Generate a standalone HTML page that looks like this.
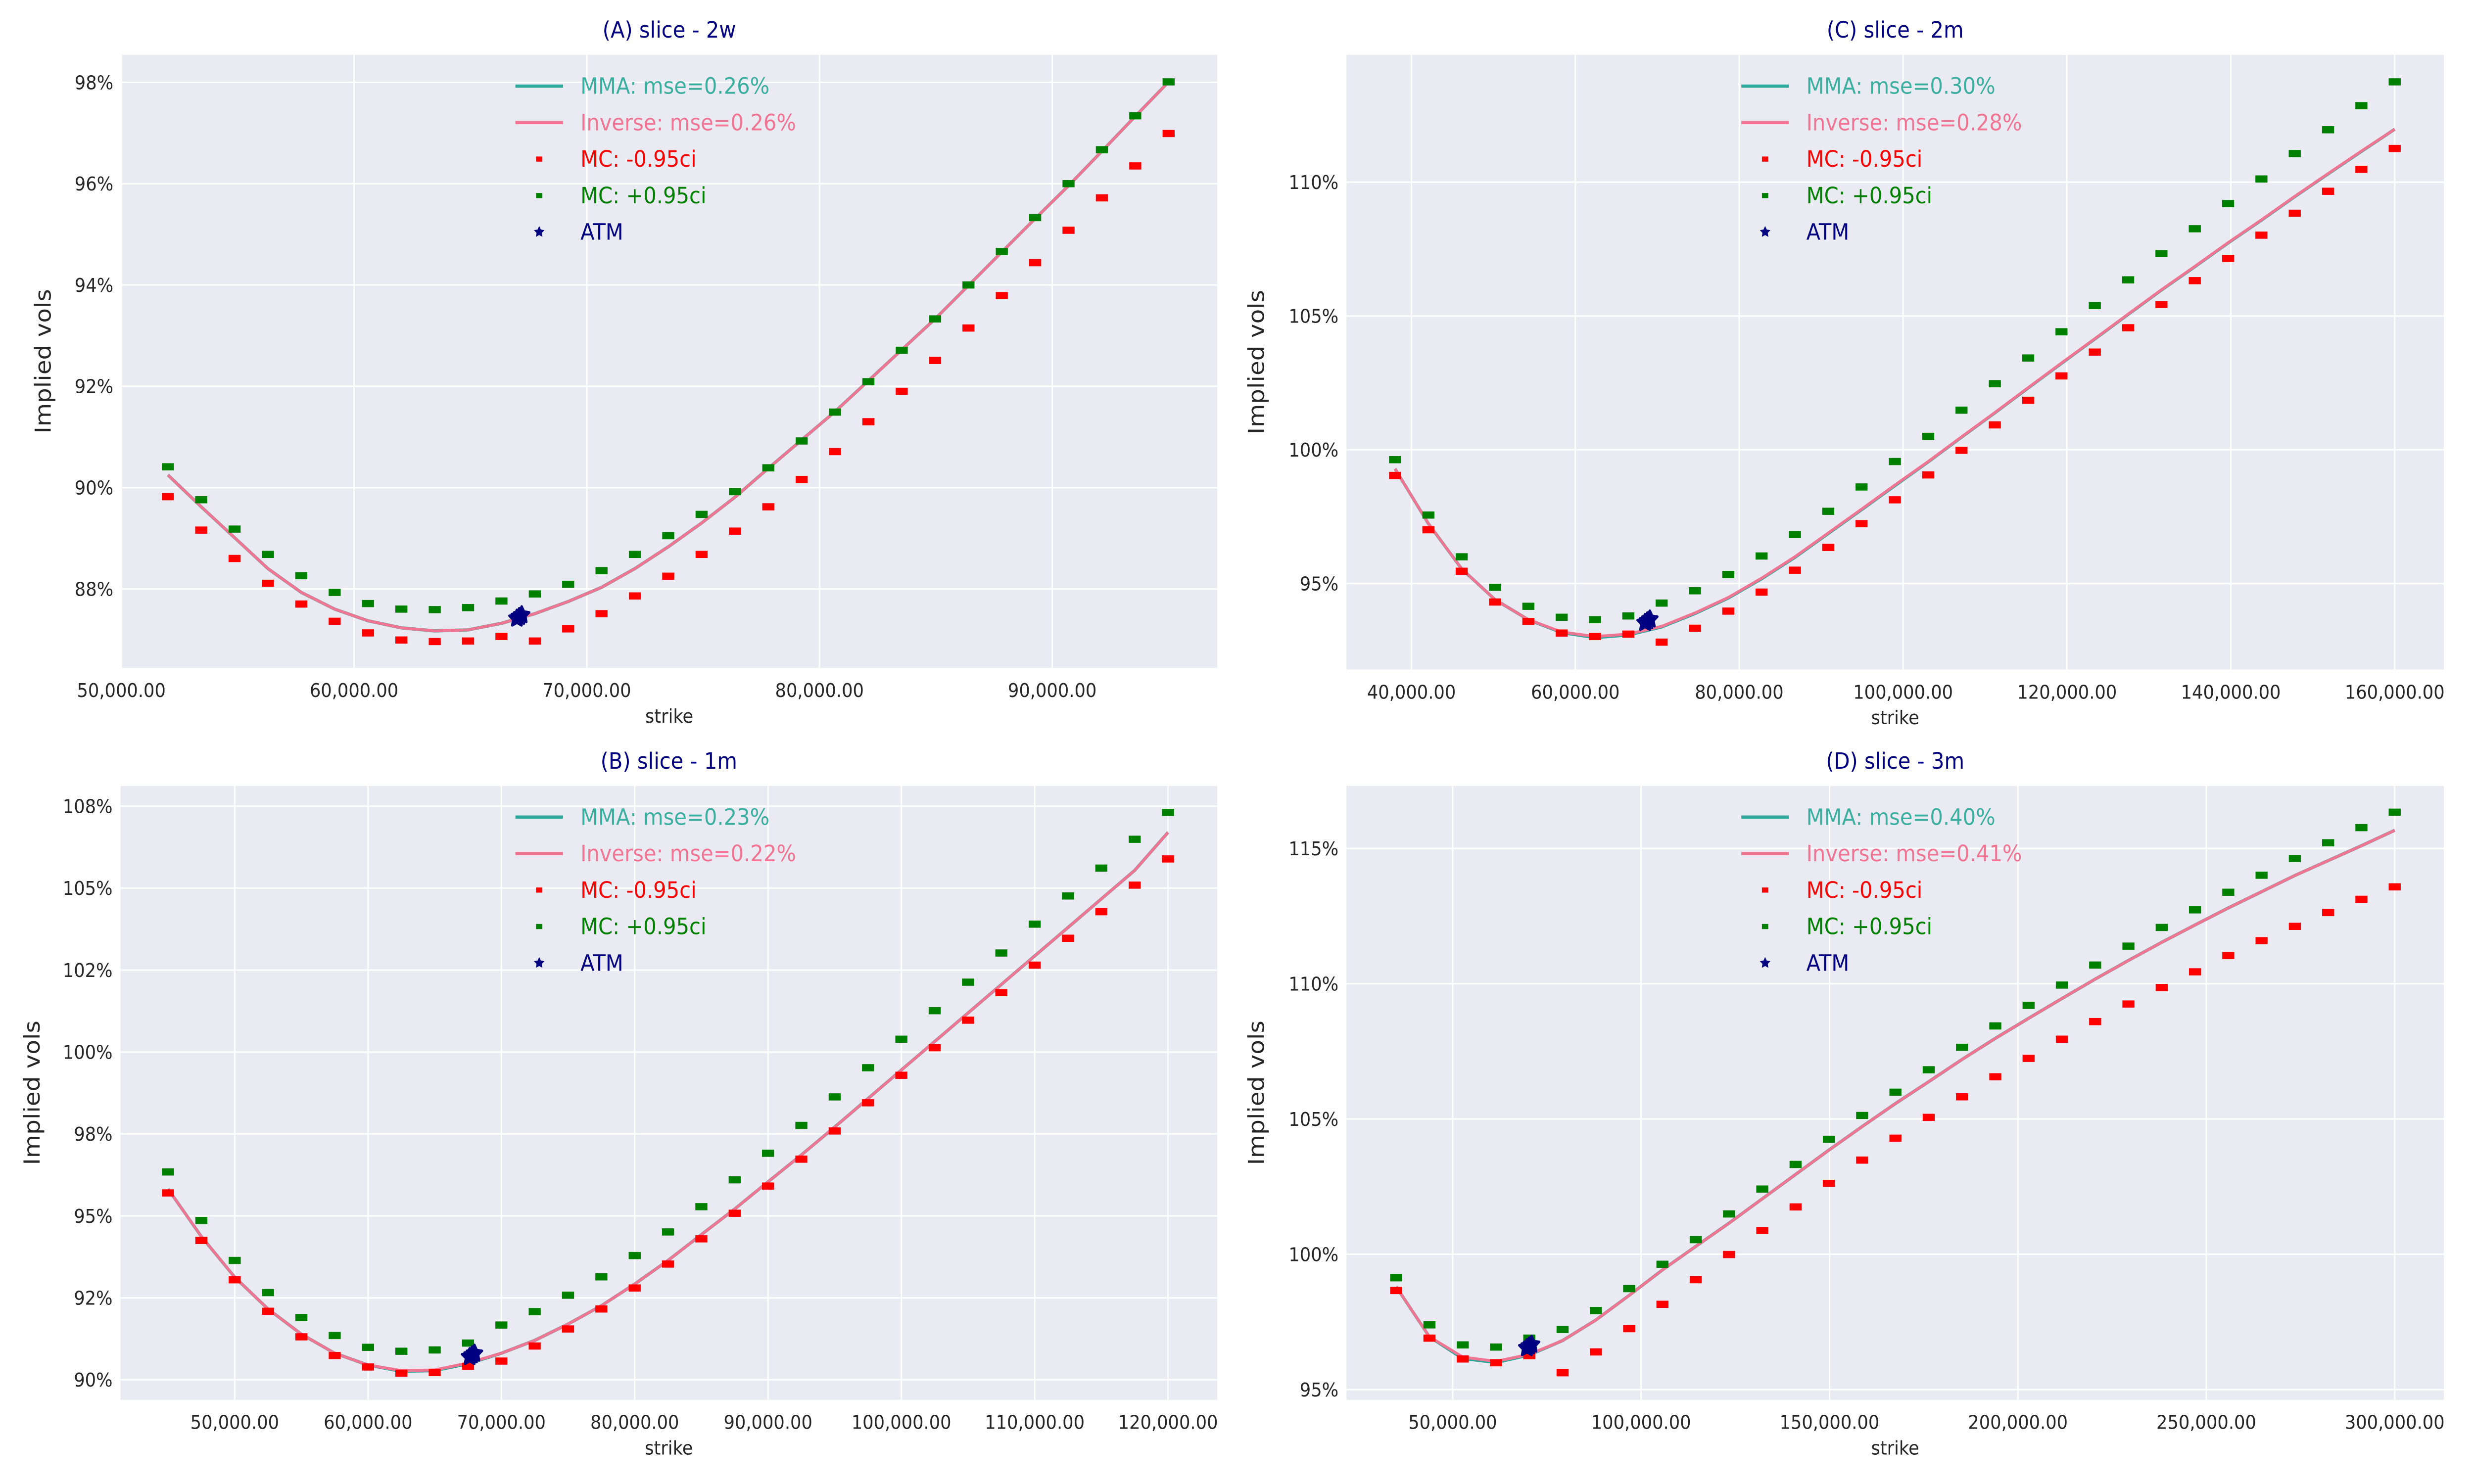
<!DOCTYPE html>
<html><head><meta charset="utf-8">
<style>
html,body{margin:0;padding:0;background:#fff;overflow:hidden;width:100%;height:100%;}
svg{display:block;position:absolute;left:0;top:0;width:100vw;height:100vh;font-family:"DejaVu Sans","Liberation Sans",sans-serif;}
</style></head>
<body>
<svg id="chart" xmlns="http://www.w3.org/2000/svg" viewBox="0 0 1560 866.67" preserveAspectRatio="none">
<rect x="0" y="0" width="1560" height="866.67" fill="#ffffff"/>
</svg>
<script>
// ---------- Panel A (2w) ----------
const strikesA=[52000,53433,54867,56300,57733,59167,60600,62033,63467,64900,66333,67767,69200,70633,72067,73500,74933,76367,77800,79233,80667,82100,83533,84967,86400,87833,89267,90700,92133,93567,95000];
const greenA=[90.41,89.76,89.18,88.68,88.26,87.93,87.71,87.60,87.59,87.63,87.76,87.90,88.09,88.36,88.68,89.05,89.47,89.92,90.39,90.92,91.49,92.09,92.71,93.33,94.00,94.66,95.33,96.00,96.67,97.34,98.01];
const redA=[89.82,89.16,88.60,88.11,87.70,87.36,87.13,86.99,86.96,86.97,87.06,86.97,87.21,87.51,87.86,88.25,88.68,89.14,89.62,90.16,90.71,91.30,91.90,92.51,93.15,93.79,94.44,95.08,95.72,96.35,96.99];
const mmaA=[90.25,89.62,89.01,88.40,87.93,87.60,87.37,87.23,87.17,87.19,87.32,87.51,87.75,88.03,88.40,88.83,89.30,89.81,90.38,90.94,91.50,92.11,92.72,93.33,93.99,94.65,95.31,95.96,96.64,97.33,98.01];
const invA=[90.25,89.62,89.01,88.40,87.93,87.60,87.37,87.23,87.17,87.19,87.32,87.51,87.75,88.03,88.40,88.83,89.30,89.81,90.38,90.94,91.50,92.11,92.72,93.33,93.99,94.65,95.31,95.96,96.64,97.33,98.01];
const atmA=[67100,87.45];
const xTicksA=[50000,60000,70000,80000,90000];
const yTicksA=[88,90,92,94,96,98];
const yTickLabelsA=["88%","90%","92%","94%","96%","98%"];
const legendA=["MMA: mse=0.26%","Inverse: mse=0.26%","MC: -0.95ci","MC: +0.95ci","ATM"];

// ---------- Panel B (1m) ----------
const strikesB=[45000,47500,50000,52500,55000,57500,60000,62500,65000,67500,70000,72500,75000,77500,80000,82500,85000,87500,90000,92500,95000,97500,100000,102500,105000,107500,110000,112500,115000,117500,120000];
const greenB=[96.34,94.86,93.64,92.66,91.90,91.35,90.99,90.87,90.91,91.12,91.67,92.08,92.58,93.14,93.79,94.51,95.28,96.10,96.91,97.76,98.63,99.52,100.39,101.26,102.13,103.02,103.90,104.76,105.61,106.49,107.31];
const redB=[95.70,94.25,93.05,92.09,91.31,90.74,90.39,90.20,90.22,90.41,90.57,91.03,91.55,92.16,92.80,93.53,94.30,95.08,95.91,96.73,97.59,98.45,99.29,100.13,100.97,101.81,102.65,103.47,104.28,105.09,105.89];
const mmaB=[95.82,94.37,93.13,92.16,91.39,90.81,90.45,90.26,90.28,90.49,90.81,91.20,91.70,92.26,92.92,93.64,94.43,95.21,96.04,96.86,97.71,98.58,99.45,100.32,101.19,102.06,102.93,103.80,104.67,105.54,106.70];
const invB=[95.82,94.37,93.13,92.16,91.39,90.81,90.45,90.28,90.30,90.51,90.81,91.20,91.70,92.26,92.92,93.64,94.43,95.21,96.04,96.86,97.71,98.58,99.45,100.32,101.19,102.06,102.93,103.80,104.67,105.54,106.70];
const atmB=[67800,90.75];
const xTicksB=[50000,60000,70000,80000,90000,100000,110000,120000];
const yTicksB=[90,92.5,95,97.5,100,102.5,105,107.5];
const yTickLabelsB=["90%","92%","95%","98%","100%","102%","105%","108%"];
const legendB=["MMA: mse=0.23%","Inverse: mse=0.22%","MC: -0.95ci","MC: +0.95ci","ATM"];

// ---------- Panel C (2m) ----------
const strikesC=[38000,42067,46133,50200,54267,58333,62400,66467,70533,74600,78667,82733,86800,90867,94933,99000,103067,107133,111200,115267,119333,123400,127467,131533,135600,139667,143733,147800,151867,155933,160000];
const greenC=[99.63,97.56,96.00,94.86,94.15,93.74,93.65,93.79,94.27,94.73,95.34,96.03,96.83,97.70,98.61,99.56,100.50,101.48,102.47,103.43,104.41,105.39,106.35,107.33,108.26,109.20,110.12,111.07,111.96,112.86,113.75];
const redC=[99.04,97.01,95.46,94.31,93.58,93.15,93.02,93.11,92.81,93.33,93.97,94.68,95.50,96.35,97.24,98.13,99.06,99.98,100.93,101.85,102.76,103.65,104.56,105.43,106.32,107.15,108.02,108.84,109.66,110.48,111.26];
const mmaC=[99.29,97.24,95.55,94.40,93.65,93.17,92.98,93.08,93.38,93.88,94.46,95.18,95.98,96.87,97.76,98.66,99.55,100.47,101.38,102.31,103.23,104.14,105.06,105.97,106.84,107.73,108.58,109.46,110.31,111.15,111.98];
const invC=[99.29,97.24,95.55,94.40,93.65,93.19,93.02,93.11,93.40,93.90,94.48,95.20,96.00,96.89,97.78,98.68,99.56,100.48,101.39,102.32,103.24,104.15,105.07,105.98,106.85,107.74,108.59,109.47,110.32,111.16,111.98];
const atmC=[68800,93.6];
const xTicksC=[40000,60000,80000,100000,120000,140000,160000];
const yTicksC=[95,100,105,110];
const yTickLabelsC=["95%","100%","105%","110%"];
const legendC=["MMA: mse=0.30%","Inverse: mse=0.28%","MC: -0.95ci","MC: +0.95ci","ATM"];

// ---------- Panel D (3m) ----------
const strikesD=[35000,43833,52667,61500,70333,79167,88000,96833,105667,114500,123333,132167,141000,149833,158667,167500,176333,185167,194000,202833,211667,220500,229333,238167,247000,255833,264667,273500,282333,291167,300000];
const greenD=[99.13,97.39,96.65,96.57,96.90,97.22,97.92,98.73,99.63,100.54,101.49,102.41,103.32,104.25,105.13,105.99,106.82,107.65,108.44,109.20,109.95,110.69,111.39,112.08,112.73,113.38,114.01,114.63,115.21,115.77,116.34];
const redD=[98.66,96.90,96.13,95.99,96.25,95.62,96.39,97.25,98.15,99.06,99.99,100.88,101.75,102.62,103.48,104.29,105.06,105.82,106.56,107.24,107.95,108.60,109.25,109.86,110.44,111.04,111.59,112.12,112.63,113.12,113.58];
const mmaD=[98.80,96.95,96.15,96.00,96.28,96.81,97.57,98.48,99.42,100.29,101.15,102.05,102.95,103.85,104.72,105.57,106.38,107.20,107.98,108.72,109.45,110.17,110.86,111.53,112.17,112.80,113.40,114.00,114.55,115.10,115.67];
const invD=[98.80,96.95,96.20,96.04,96.30,96.81,97.57,98.48,99.42,100.29,101.15,102.05,102.95,103.85,104.72,105.57,106.38,107.20,107.98,108.72,109.45,110.17,110.86,111.53,112.17,112.80,113.40,114.00,114.55,115.10,115.67];
const atmD=[70300,96.6];
const xTicksD=[50000,100000,150000,200000,250000,300000];
const yTicksD=[95,100,105,110,115];
const yTickLabelsD=["95%","100%","105%","110%","115%"];
const legendD=["MMA: mse=0.40%","Inverse: mse=0.41%","MC: -0.95ci","MC: +0.95ci","ATM"];

const NS="http://www.w3.org/2000/svg";
const svg=document.getElementById('chart');
function mk(tag,attrs,parent){const e=document.createElementNS(NS,tag);for(const k in attrs)e.setAttribute(k,attrs[k]);(parent||svg).appendChild(e);return e;}
function fmt(v){return v.toLocaleString('en-US',{minimumFractionDigits:2,maximumFractionDigits:2});}

function panel(cfg){
  const g=mk('g',{});
  
  
  const L=cfg.left,R=cfg.right,T=cfg.top,B=cfg.bottom;
  const sx=v=>cfg.x0px+(v-cfg.x0)*(cfg.x1px-cfg.x0px)/(cfg.x1-cfg.x0);
  const sy=v=>cfg.y0px+(v-cfg.y0)*(cfg.y1px-cfg.y0px)/(cfg.y1-cfg.y0);
  const bg=mk('rect',{x:L,y:T,width:R-L,height:B-T,fill:'#EAEAF2'},g);
  
  
  cfg.xTicks.forEach(t=>{
    const x=sx(t);
    const ln=mk('line',{x1:x,x2:x,y1:T,y2:B,stroke:'#fff','stroke-width':0.9},g);
    
    
    const tx=mk('text',{x:x,y:B+17,'font-size':11,'text-anchor':'middle',fill:'#262626'},g);
    tx.textContent=fmt(t);
    
    
  });
  cfg.yTicks.forEach((t,i)=>{
    const y=sy(t);
    const ln=mk('line',{x1:L,x2:R,y1:y,y2:y,stroke:'#fff','stroke-width':0.9},g);
    
    
    const tx=mk('text',{x:L-5,y:y+4,'font-size':11,'text-anchor':'end',fill:'#262626'},g);
    tx.textContent=cfg.yLabels[i];
    
    
  });
  const title=mk('text',{x:(L+R)/2,y:T-10,'font-size':13,'text-anchor':'middle',fill:'#000080'},g);
  title.textContent=cfg.title;
  
  
  const xl=mk('text',{x:(L+R)/2,y:B+32,'font-size':11,'text-anchor':'middle',fill:'#262626'},g);
  xl.textContent='strike';
  
  
  const yc=(T+B)/2;
  const yl=mk('text',{x:cfg.ylabX,y:yc,'font-size':14,'text-anchor':'middle',fill:'#262626',transform:`rotate(-90 ${cfg.ylabX} ${yc})`},g);
  yl.textContent='Implied vols';
  
  
  const path=arr=>arr.map((v,i)=>(i?'L':'M')+sx(cfg.strikes[i]).toFixed(2)+' '+sy(v).toFixed(2)).join(' ');
  const m=mk('path',{d:path(cfg.mma),fill:'none',stroke:'#2ca89a','stroke-width':1.9},g);
  
  
  const inv=mk('path',{d:path(cfg.inv),fill:'none',stroke:'#f07592','stroke-width':1.7},g);
  
  
  cfg.red.forEach((v,i)=>{
    const r=mk('rect',{x:sx(cfg.strikes[i])-3.8,y:sy(v)-2.1,width:7.6,height:4.2,fill:'#ff0000'},g);
    
    
  });
  cfg.green.forEach((v,i)=>{
    const r=mk('rect',{x:sx(cfg.strikes[i])-3.8,y:sy(v)-2.1,width:7.6,height:4.2,fill:'#008000'},g);
    
    
  });
  const star=(cx,cy,r)=>{let p=[];for(let k=0;k<10;k++){const a=-Math.PI/2+k*Math.PI/5;const rr=k%2?r*0.5:r;p.push((cx+rr*Math.cos(a)).toFixed(2)+','+(cy+rr*Math.sin(a)).toFixed(2));}return p.join(' ');};
  const ax=sx(cfg.atm[0]),ay=sy(cfg.atm[1]);
  [[-1.5,1],[1.5,-1],[0,0]].forEach(o=>{
    const s=mk('polygon',{points:star(ax+o[0],ay+o[1],5),fill:'#000080',stroke:'#000080','stroke-width':1.5,'stroke-linejoin':'round'},g);
    
    
  });
  const cols=['#3aafa0','#f07592','#ff0000','#008000','#000080'];
  cfg.legend.forEach((txt,i)=>{
    const y=cfg.legY+i*21.3;
    const lx=cfg.legX;
    const it=mk('g',{},g);
    
    
    if(i<2){mk('line',{x1:lx,x2:lx+30,y1:y,y2:y,stroke:i==0?'#2ca89a':'#f07592','stroke-width':1.9},it);}
    else if(i<4){mk('rect',{x:lx+13,y:y-1.5,width:4,height:3,fill:cols[i]},it);}
    else{mk('polygon',{points:star(lx+15,y,3.5),fill:'#000080'},it);}
    const t=mk('text',{x:lx+41,y:y+4.5,'font-size':13,fill:cols[i]},it);
    t.textContent=txt;
  });
}

panel({id:'a',title:'(A) slice - 2w',left:76.5,right:767.5,top:32,bottom:390,x0:50000,x1:90000,x0px:76.5,x1px:663.5,y0:88,y1:98,y0px:343.9,y1px:48.1,xTicks:xTicksA,yTicks:yTicksA,yLabels:yTickLabelsA,strikes:strikesA,green:greenA,red:redA,mma:mmaA,inv:invA,atm:atmA,legend:legendA,legX:325,legY:50.3,ylabX:32});
panel({id:'c',title:'(C) slice - 2m',left:849,right:1541,top:32,bottom:391,x0:40000,x1:160000,x0px:890,x1px:1510,y0:95,y1:110,y0px:340.8,y1px:106.4,xTicks:xTicksC,yTicks:yTicksC,yLabels:yTickLabelsC,strikes:strikesC,green:greenC,red:redC,mma:mmaC,inv:invC,atm:atmC,legend:legendC,legX:1098,legY:50.3,ylabX:797});
panel({id:'b',title:'(B) slice - 1m',left:76,right:767.5,top:459,bottom:817.5,x0:50000,x1:120000,x0px:148,x1px:736.5,y0:90,y1:107.5,y0px:805.8,y1px:470.8,xTicks:xTicksB,yTicks:yTicksB,yLabels:yTickLabelsB,strikes:strikesB,green:greenB,red:redB,mma:mmaB,inv:invB,atm:atmB,legend:legendB,legX:325,legY:477.2,ylabX:25});
panel({id:'d',title:'(D) slice - 3m',left:849,right:1541,top:459,bottom:817.5,x0:50000,x1:300000,x0px:916,x1px:1510,y0:95,y1:115,y0px:811.5,y1px:495.5,xTicks:xTicksD,yTicks:yTicksD,yLabels:yTickLabelsD,strikes:strikesD,green:greenD,red:redD,mma:mmaD,inv:invD,atm:atmD,legend:legendD,legX:1098,legY:477.2,ylabX:797});
</script>
</body></html>
